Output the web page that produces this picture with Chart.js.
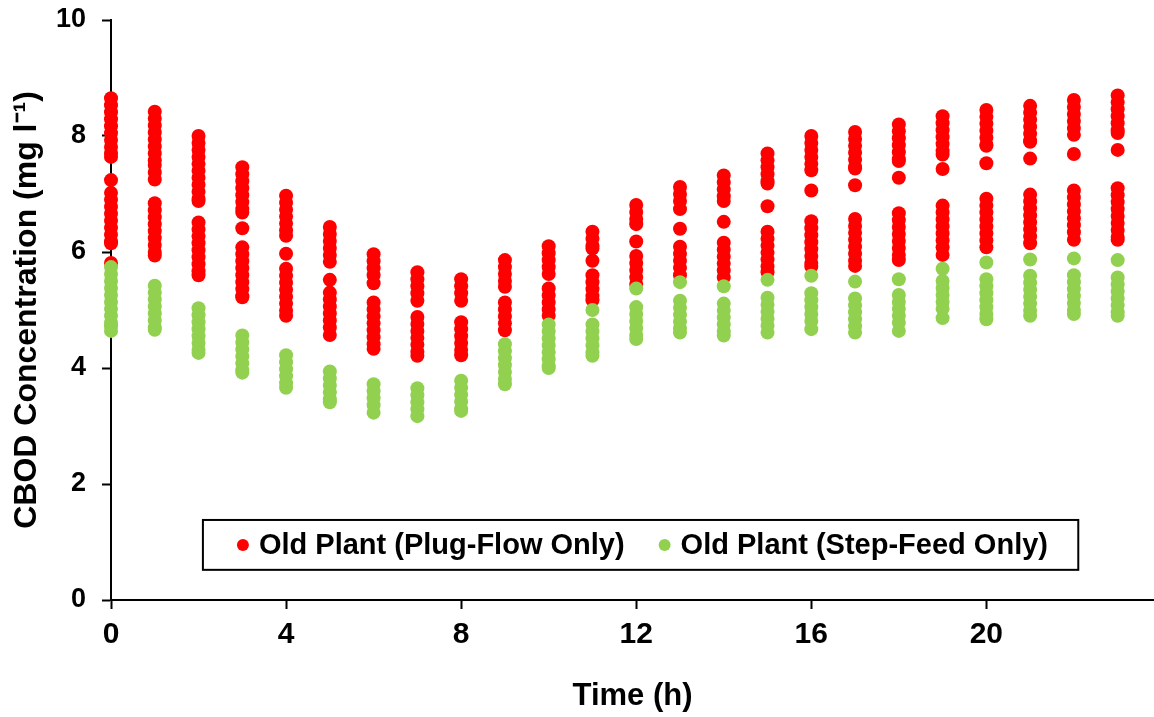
<!DOCTYPE html>
<html>
<head>
<meta charset="utf-8">
<title>CBOD Concentration</title>
<script src="https://cdn.jsdelivr.net/npm/chart.js@4.4.1/dist/chart.umd.min.js"></script>
<style>
  html, body { margin: 0; padding: 0; background: #fff; }
  #wrap { width: 1154px; height: 717px; }
</style>
</head>
<body>
<div id="wrap"><canvas id="cbodChart" width="1154" height="717"></canvas></div>
<script>
// Hourly CBOD readings (mg/l), one list of samples per hour
const hours = [0, 1, 2, 3, 4, 5, 6, 7, 8, 9, 10, 11, 12, 13, 14, 15, 16, 17, 18, 19, 20, 21, 22, 23];

const plugFlow = [
    [8.65, 8.53, 8.41, 8.29, 8.17, 8.05, 7.93, 7.81, 7.7, 7.64, 7.24, 7.02, 6.9, 6.78, 6.66, 6.54, 6.42, 6.3, 6.18, 6.15, 5.81],
    [8.42, 8.3, 8.18, 8.06, 7.94, 7.82, 7.7, 7.58, 7.5, 7.37, 7.25, 6.84, 6.72, 6.6, 6.48, 6.36, 6.24, 6.12, 6.0, 5.94],
    [8.0, 7.88, 7.76, 7.64, 7.52, 7.4, 7.28, 7.16, 7.04, 6.92, 6.88, 6.51, 6.39, 6.27, 6.15, 6.03, 5.91, 5.79, 5.67, 5.6],
    [7.46, 7.34, 7.22, 7.1, 6.98, 6.86, 6.74, 6.68, 6.41, 6.08, 5.96, 5.84, 5.72, 5.6, 5.48, 5.36, 5.24, 5.22],
    [6.97, 6.85, 6.73, 6.61, 6.49, 6.37, 6.28, 5.97, 5.71, 5.59, 5.47, 5.35, 5.23, 5.11, 4.99, 4.9],
    [6.43, 6.31, 6.19, 6.07, 5.95, 5.83, 5.52, 5.3, 5.18, 5.06, 4.94, 4.82, 4.7, 4.57],
    [5.96, 5.84, 5.72, 5.6, 5.46, 5.13, 5.01, 4.89, 4.77, 4.65, 4.53, 4.41, 4.33],
    [5.65, 5.53, 5.41, 5.29, 5.16, 4.88, 4.76, 4.64, 4.52, 4.4, 4.28, 4.21],
    [5.53, 5.41, 5.29, 5.16, 4.79, 4.67, 4.55, 4.43, 4.31, 4.22],
    [5.86, 5.74, 5.62, 5.5, 5.4, 5.13, 5.01, 4.89, 4.77, 4.65],
    [6.1, 5.98, 5.86, 5.74, 5.62, 5.37, 5.25, 5.13, 5.01, 4.9],
    [6.35, 6.23, 6.11, 6.06, 5.85, 5.6, 5.48, 5.36, 5.24, 5.17],
    [6.81, 6.69, 6.57, 6.48, 6.18, 5.93, 5.81, 5.69, 5.57, 5.45],
    [7.12, 7.0, 6.88, 6.74, 6.4, 6.09, 5.97, 5.85, 5.73, 5.6],
    [7.32, 7.2, 7.08, 6.96, 6.88, 6.52, 6.16, 6.04, 5.92, 5.8, 5.68, 5.56],
    [7.7, 7.58, 7.46, 7.34, 7.22, 7.18, 6.79, 6.35, 6.23, 6.11, 5.99, 5.87, 5.75, 5.65],
    [8.0, 7.88, 7.76, 7.64, 7.52, 7.41, 7.06, 6.53, 6.41, 6.29, 6.17, 6.05, 5.93, 5.81, 5.75],
    [8.07, 7.95, 7.83, 7.71, 7.59, 7.47, 7.44, 7.15, 6.57, 6.45, 6.33, 6.21, 6.09, 5.97, 5.85, 5.76],
    [8.2, 8.08, 7.96, 7.84, 7.72, 7.6, 7.57, 7.28, 6.67, 6.55, 6.43, 6.31, 6.19, 6.07, 5.95, 5.86],
    [8.34, 8.22, 8.1, 7.98, 7.86, 7.74, 7.68, 7.43, 6.8, 6.68, 6.56, 6.44, 6.32, 6.2, 6.08, 5.95],
    [8.45, 8.33, 8.21, 8.09, 7.97, 7.85, 7.83, 7.53, 6.92, 6.8, 6.68, 6.56, 6.44, 6.32, 6.2, 6.08],
    [8.52, 8.4, 8.28, 8.16, 8.04, 7.92, 7.9, 7.61, 6.99, 6.87, 6.75, 6.63, 6.51, 6.39, 6.27, 6.15],
    [8.62, 8.5, 8.38, 8.26, 8.14, 8.02, 7.69, 7.06, 6.94, 6.82, 6.7, 6.58, 6.46, 6.34, 6.21],
    [8.7, 8.58, 8.46, 8.34, 8.22, 8.1, 8.05, 7.76, 7.1, 6.98, 6.86, 6.74, 6.62, 6.5, 6.38, 6.26, 6.21]
];

const stepFeed = [
    [5.74, 5.62, 5.5, 5.38, 5.26, 5.14, 5.02, 4.9, 4.78, 4.72, 4.64],
    [5.42, 5.3, 5.18, 5.06, 4.94, 4.82, 4.7, 4.66],
    [5.03, 4.91, 4.79, 4.67, 4.55, 4.43, 4.31, 4.26],
    [4.56, 4.44, 4.32, 4.2, 4.08, 3.96, 3.92],
    [4.22, 4.1, 3.98, 3.86, 3.74, 3.66],
    [3.94, 3.82, 3.7, 3.58, 3.46, 3.41],
    [3.72, 3.6, 3.48, 3.36, 3.23],
    [3.65, 3.53, 3.41, 3.29, 3.17],
    [3.78, 3.66, 3.54, 3.42, 3.3, 3.26],
    [4.41, 4.29, 4.17, 4.05, 3.93, 3.81, 3.72],
    [4.75, 4.63, 4.51, 4.39, 4.27, 4.15, 4.03, 4.0],
    [5.0, 4.75, 4.63, 4.51, 4.39, 4.27, 4.21],
    [5.37, 5.05, 4.93, 4.81, 4.69, 4.57, 4.5],
    [5.48, 5.16, 5.04, 4.92, 4.8, 4.68, 4.61],
    [5.41, 5.11, 4.99, 4.87, 4.75, 4.63, 4.56],
    [5.52, 5.21, 5.09, 4.97, 4.85, 4.73, 4.61],
    [5.59, 5.29, 5.17, 5.05, 4.93, 4.81, 4.67],
    [5.49, 5.2, 5.08, 4.96, 4.84, 4.72, 4.61],
    [5.53, 5.26, 5.14, 5.02, 4.9, 4.78, 4.64],
    [5.71, 5.5, 5.38, 5.26, 5.14, 5.02, 4.86],
    [5.82, 5.53, 5.41, 5.29, 5.17, 5.05, 4.93, 4.84],
    [5.87, 5.59, 5.47, 5.35, 5.23, 5.11, 4.99, 4.9],
    [5.89, 5.6, 5.48, 5.36, 5.24, 5.12, 5.0, 4.93],
    [5.86, 5.56, 5.44, 5.32, 5.2, 5.08, 4.96, 4.9]
];

const seriesLabels = ["Old Plant (Plug-Flow Only)", "Old Plant (Step-Feed Only)"];
const seriesColors = ["#FF0000", "#92D050"];

const xTicks = [0, 4, 8, 12, 16, 20];
const yTicks = [0, 2, 4, 6, 8, 10];

const FONT = "'Liberation Sans', Arial, Helvetica, sans-serif";

// flatten one-list-per-hour into scatter points
const toPoints = (byHour) => {

    return hours.flatMap((h, i) => byHour[i].map(v => ({ x: h, y: v })));
};

// Legend drawn as a framed box inside the plot area
const boxLegend = {

    id: "boxLegend",

    afterDraw(chart) {

        const { ctx, scales: { x, y } } = chart;

        const left = x.getPixelForValue(2.1);
        const right = x.getPixelForValue(22.1);
        const top = y.getPixelForValue(1.38);
        const bottom = y.getPixelForValue(0.52);
        const midY = (top + bottom) / 2;

        ctx.save();

        ctx.fillStyle = "#fff";
        ctx.fillRect(left, top, right - left, bottom - top);
        ctx.strokeStyle = "#000";
        ctx.lineWidth = 2;
        ctx.strokeRect(left, top, right - left, bottom - top);

        ctx.font = "bold 29px " + FONT;
        ctx.textBaseline = "middle";
        ctx.textAlign = "left";

        let cx = left + 40;

        seriesLabels.forEach((label, i) => {

            ctx.fillStyle = seriesColors[i];
            ctx.beginPath();
            ctx.arc(cx, midY, 6, 0, Math.PI * 2);
            ctx.fill();

            ctx.fillStyle = "#000";
            ctx.fillText(label, cx + 16, midY + 1);

            cx += 16 + ctx.measureText(label).width + 40;
        });

        ctx.restore();
    }
};

const ctx = document.getElementById("cbodChart");

new Chart(ctx, {

    type: "scatter",

    data: {

        datasets: [
            {
                label: seriesLabels[0],
                data: toPoints(plugFlow),
                backgroundColor: seriesColors[0],
                borderColor: seriesColors[0],
                borderWidth: 0,
                pointRadius: 7,
                pointHoverRadius: 7,
                clip: false,
                order: 1
            },
            {
                label: seriesLabels[1],
                data: toPoints(stepFeed),
                backgroundColor: seriesColors[1],
                borderColor: seriesColors[1],
                borderWidth: 0,
                pointRadius: 7,
                pointHoverRadius: 7,
                clip: false,
                order: 0
            }
        ]
    },

    options: {

        responsive: false,
        animation: false,
        devicePixelRatio: 1,

        layout: {
            autoPadding: false,
            padding: { top: 20, right: 0, bottom: 0, left: 0 }
        },

        plugins: {
            legend: { display: false },
            tooltip: { enabled: false }
        },

        scales: {

            x: {
                type: "linear",
                min: 0,
                max: 23.83,
                afterBuildTicks: (scale) => {
                    scale.ticks = xTicks.map(v => ({ value: v }));
                },
                afterFit: (scale) => {
                    scale.height = 117;
                    scale.paddingLeft = 0;
                    scale.paddingRight = 0;
                },
                grid: {
                    drawOnChartArea: false,
                    drawTicks: true,
                    tickLength: 9,
                    tickWidth: 2,
                    tickColor: "#000"
                },
                border: { display: true, color: "#000", width: 2 },
                ticks: {
                    color: "#000",
                    padding: 8,
                    maxRotation: 0,
                    font: { family: FONT, size: 30, weight: "bold" }
                },
                title: {
                    display: true,
                    text: "Time (h)",
                    color: "#000",
                    padding: { top: 0, bottom: 2 },
                    font: { family: FONT, size: 31, weight: "bold" }
                }
            },

            y: {
                type: "linear",
                min: 0,
                max: 10,
                afterBuildTicks: (scale) => {
                    scale.ticks = yTicks.map(v => ({ value: v }));
                },
                afterFit: (scale) => {
                    scale.width = 111;
                    scale.paddingTop = 0;
                    scale.paddingBottom = 0;
                },
                grid: {
                    drawOnChartArea: false,
                    drawTicks: true,
                    tickLength: 9,
                    tickWidth: 2,
                    tickColor: "#000"
                },
                border: { display: true, color: "#000", width: 2 },
                ticks: {
                    color: "#000",
                    padding: 16,
                    font: { family: FONT, size: 27, weight: "bold" }
                },
                title: {
                    display: true,
                    text: "CBOD Concentration (mg l\u207B\u00B9)",
                    color: "#000",
                    padding: { top: 8, bottom: 0 },
                    font: { family: FONT, size: 32, weight: "bold" }
                }
            }
        }
    },

    plugins: [boxLegend]
});
</script>
</body>
</html>
